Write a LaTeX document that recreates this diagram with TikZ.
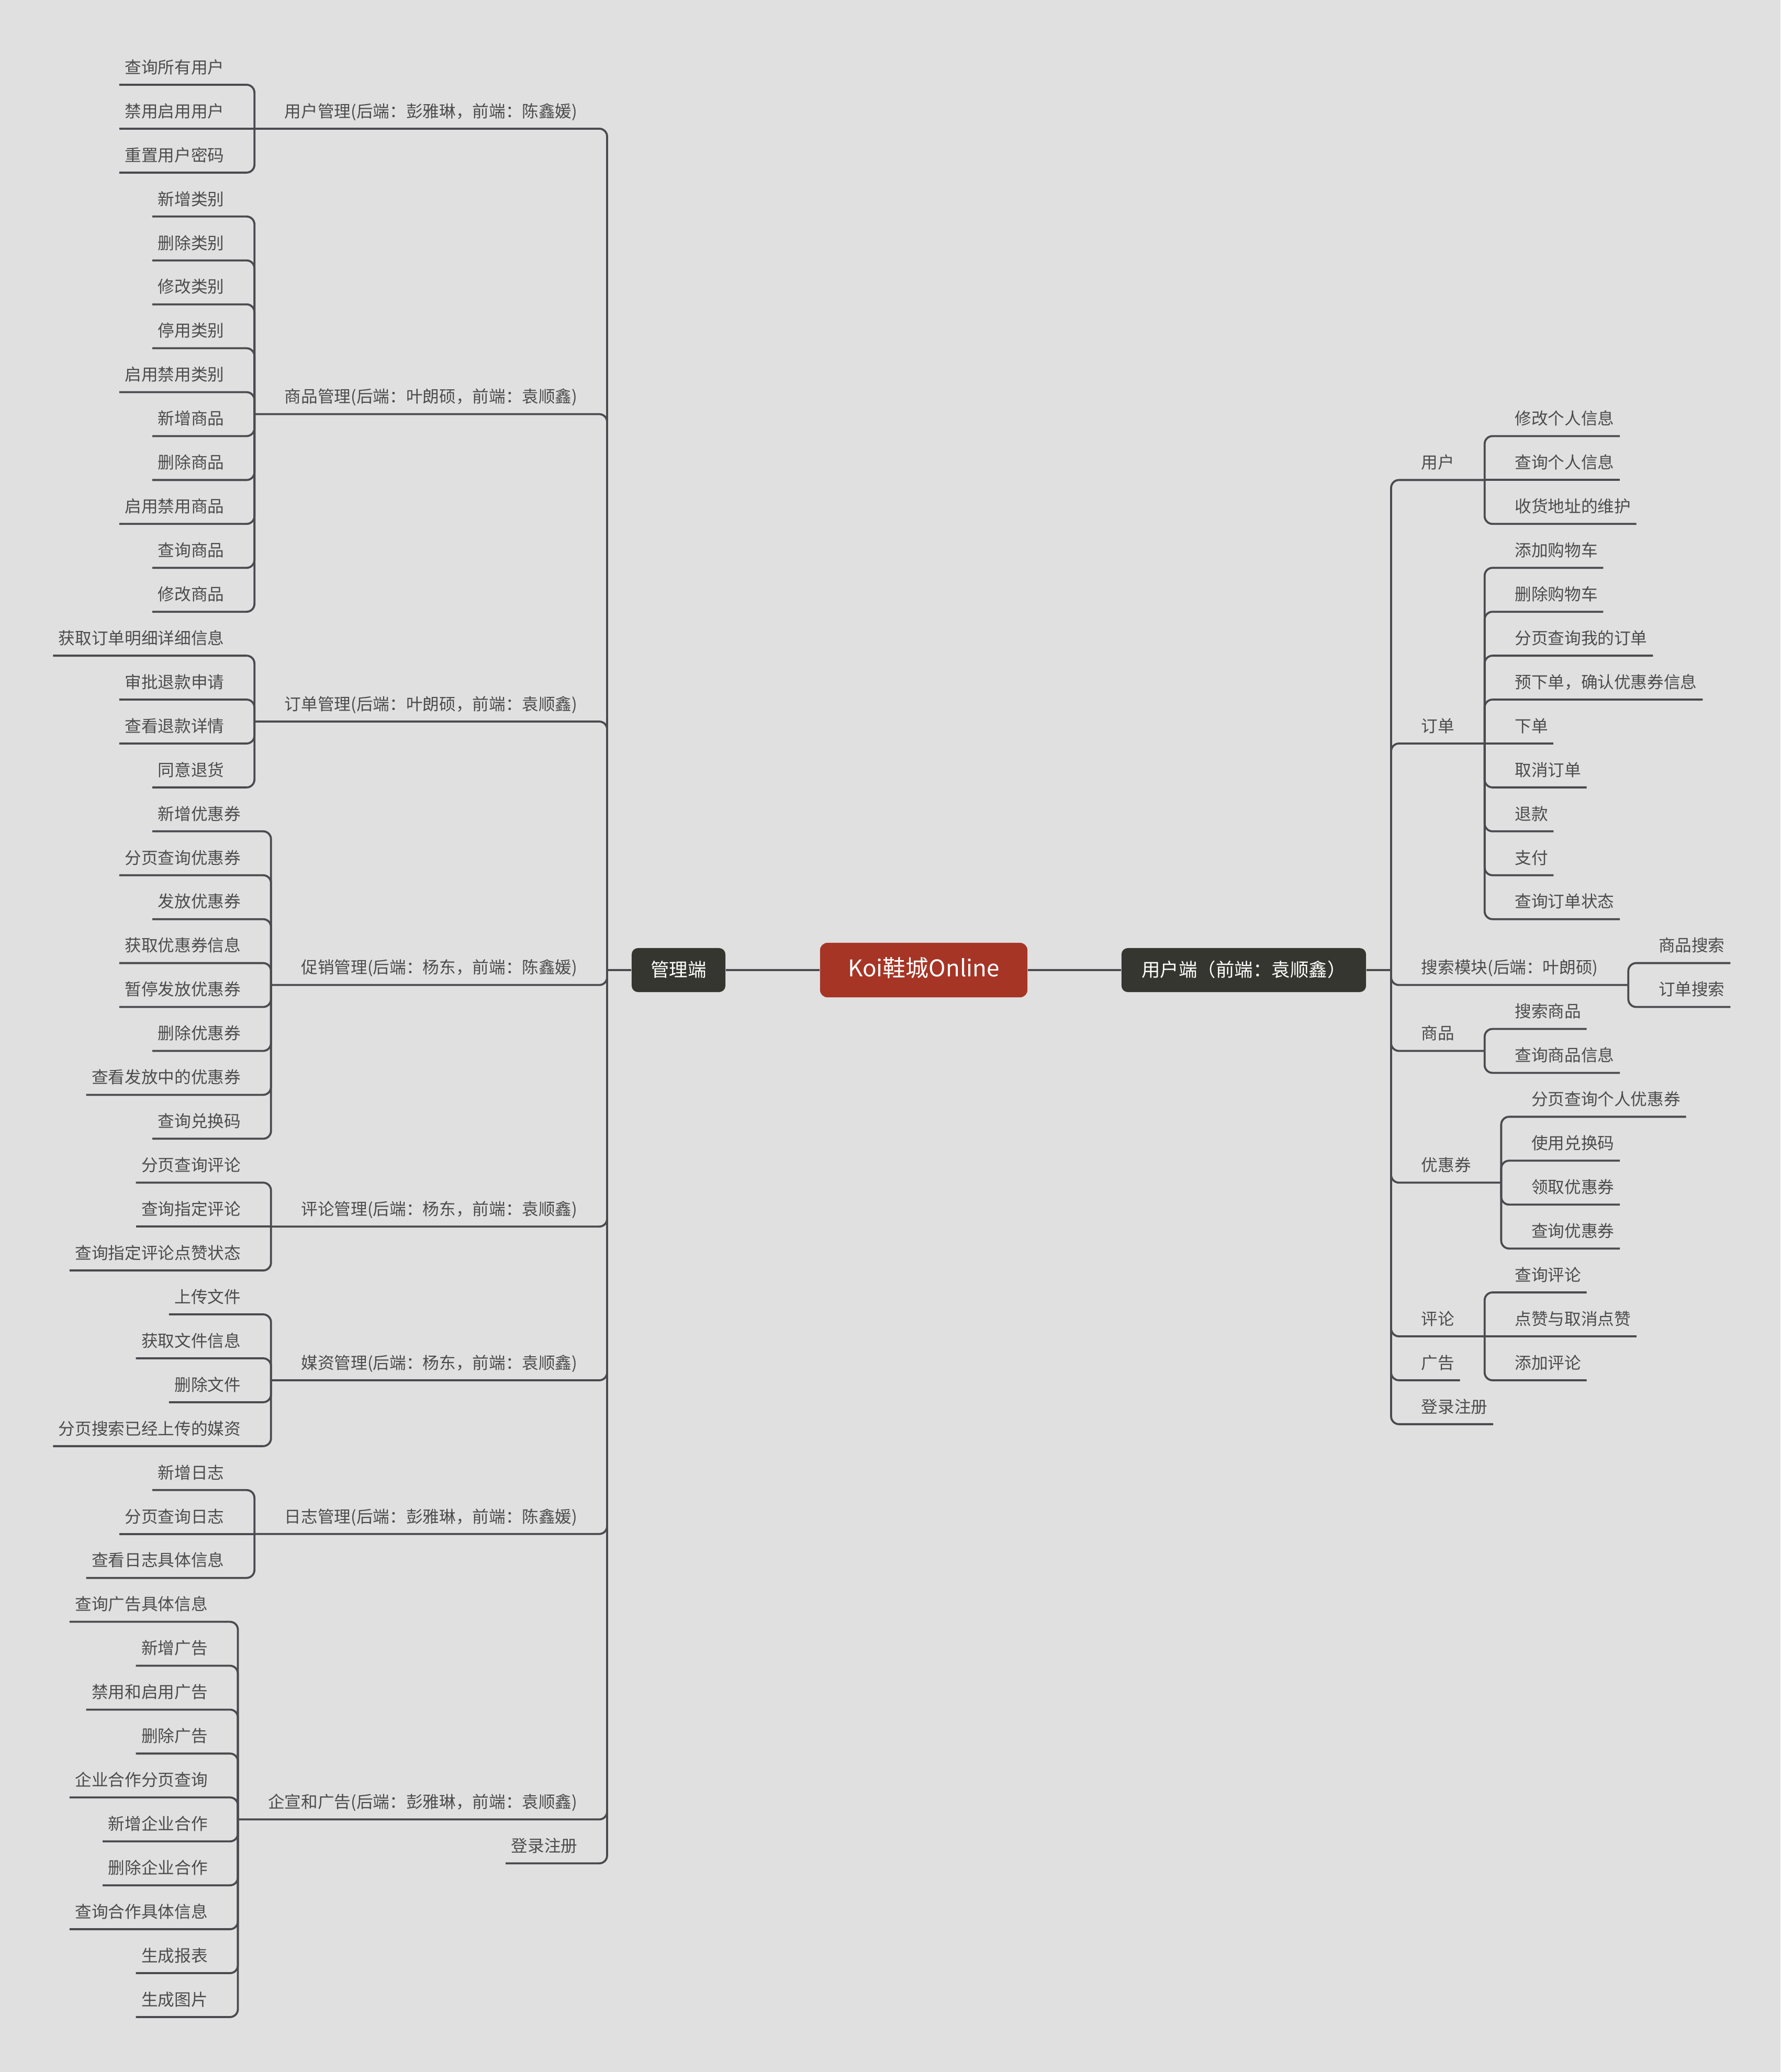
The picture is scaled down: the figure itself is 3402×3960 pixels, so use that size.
\documentclass[tikz,border=0pt]{standalone}
\usepackage{fontspec}
\setmainfont{Noto Sans CJK SC}
\usetikzlibrary{calc}
\definecolor{bgc}{RGB}{224,224,224}
\definecolor{lnc}{RGB}{74,74,79}
\definecolor{txc}{RGB}{76,76,76}
\definecolor{rootc}{RGB}{166,53,38}
\definecolor{boxc}{RGB}{54,54,48}
\newcommand\RY[1]{\pgfmathsetmacro\ry{128+83.93*(#1)}}
% leaves: name, text-edge coordinate, row, text
\newcommand\LLeaf[4]{\RY{#3}\node[lf] (#1) at (#2 |- 0,\ry) {#4};\coordinate (u#1) at ($(#1.west)+(-10,34)$);}
\newcommand\RLeaf[4]{\RY{#3}\node[rt] (#1) at (#2 |- 0,\ry) {#4};\coordinate (u#1) at ($(#1.east)+(10,34)$);}
% parents: name, row, text
\newcommand\LPar[3]{\RY{#2}\node[lf] (#1) at (1104,\ry) {#3};\coordinate (u#1) at ($(#1.west)+(-57,34)$);\coordinate (t#1) at ($(u#1)+(-57,-34)$);}
\newcommand\RPar[3]{\RY{#2}\node[rt] (#1) at (2715,\ry) {#3};\coordinate (u#1) at ($(#1.east)+(57,34)$);\coordinate (t#1) at ($(u#1)+(57,-34)$);}
% connectors: junction, child
\newcommand\Conn[2]{\draw[ln] (#1) -- (#1 |- u#2) -- (u#2);}
\newcommand\ConnS[2]{\draw[ln] (#1) -- (u#2);}
\begin{document}
\begin{tikzpicture}[x=0.01cm,y=-0.01cm,
  every node/.style={font=\fontsize{9}{11}\selectfont, text=txc, inner sep=0pt, text height=0.8em, text depth=0.1em},
  lf/.style={anchor=east},
  rt/.style={anchor=west},
  ln/.style={draw=lnc, line width=0.038cm, rounded corners=0.15cm},
  dbox/.style={fill=boxc, text=white, rounded corners=0.12cm, minimum height=0.84cm, font=\fontsize{10.1}{12}\selectfont},
  rootbox/.style={fill=rootc, text=white, rounded corners=0.14cm, minimum height=1.04cm, minimum width=3.96cm, font=\fontsize{12.5}{14}\selectfont}]
\fill[bgc] (0,0) rectangle (3402,3960);
\useasboundingbox (0,0) rectangle (3402,3960);

% central nodes
\node[rootbox] (root) at (1765,1854) {Koi鞋城Online};
\node[dbox, minimum width=1.79cm] (adm) at (1296.5,1854) {管理端};
\node[dbox, minimum width=4.67cm] (usr) at (2376.5,1854) {用户端（前端：袁顺鑫）};
\coordinate (VL) at (1160,1854);
\coordinate (VR) at (2658,1854);

% ---------- left side ----------
\LPar{p1}{1}{用户管理(后端：彭雅琳，前端：陈鑫媛)}
\LPar{p2}{7.5}{商品管理(后端：叶朗硕，前端：袁顺鑫)}
\LPar{p3}{14.5}{订单管理(后端：叶朗硕，前端：袁顺鑫)}
\LPar{p4}{20.5}{促销管理(后端：杨东，前端：陈鑫媛)}
\LPar{p5}{26}{评论管理(后端：杨东，前端：袁顺鑫)}
\LPar{p6}{29.5}{媒资管理(后端：杨东，前端：袁顺鑫)}
\LPar{p7}{33}{日志管理(后端：彭雅琳，前端：陈鑫媛)}
\LPar{p8}{39.5}{企宣和广告(后端：彭雅琳，前端：袁顺鑫)}
\RY{40.5}\node[lf] (p9) at (1104,\ry) {登录注册};
\coordinate (up9) at ($(p9.west)+(-10,34)$);

\foreach \t [count=\i from 0] in {查询所有用户,禁用启用用户,重置用户密码} {\LLeaf{a\i}{tp1}{\i}{\t}}
\foreach \t [count=\i from 3] in {新增类别,删除类别,修改类别,停用类别,启用禁用类别,新增商品,删除商品,启用禁用商品,查询商品,修改商品} {\LLeaf{a\i}{tp2}{\i}{\t}}
\foreach \t [count=\i from 13] in {获取订单明细详细信息,审批退款申请,查看退款详情,同意退货} {\LLeaf{a\i}{tp3}{\i}{\t}}
\foreach \t [count=\i from 17] in {新增优惠券,分页查询优惠券,发放优惠券,获取优惠券信息,暂停发放优惠券,删除优惠券,查看发放中的优惠券,查询兑换码} {\LLeaf{a\i}{tp4}{\i}{\t}}
\foreach \t [count=\i from 25] in {分页查询评论,查询指定评论,查询指定评论点赞状态} {\LLeaf{a\i}{tp5}{\i}{\t}}
\foreach \t [count=\i from 28] in {上传文件,获取文件信息,删除文件,分页搜索已经上传的媒资} {\LLeaf{a\i}{tp6}{\i}{\t}}
\foreach \t [count=\i from 32] in {新增日志,分页查询日志,查看日志具体信息} {\LLeaf{a\i}{tp7}{\i}{\t}}
\foreach \t [count=\i from 35] in {查询广告具体信息,新增广告,禁用和启用广告,删除广告,企业合作分页查询,新增企业合作,删除企业合作,查询合作具体信息,生成报表,生成图片} {\LLeaf{a\i}{tp8}{\i}{\t}}

% ---------- right side ----------
\RPar{q1}{9}{用户}
\RPar{q2}{15}{订单}
\RPar{q3}{20.5}{搜索模块(后端：叶朗硕)}
\RPar{q4}{22}{商品}
\RPar{q5}{25}{优惠券}
\RPar{q6}{28.5}{评论}
\RY{29.5}\node[rt] (q7) at (2715,\ry) {广告};
\coordinate (uq7) at ($(q7.east)+(10,34)$);
\RY{30.5}\node[rt] (q8) at (2715,\ry) {登录注册};
\coordinate (uq8) at ($(q8.east)+(10,34)$);

\foreach \t [count=\i from 8] in {修改个人信息,查询个人信息,收货地址的维护} {\RLeaf{b\i}{tq1}{\i}{\t}}
\foreach \t [count=\i from 11] in {添加购物车,删除购物车,分页查询我的订单,预下单，确认优惠券信息,下单,取消订单,退款,支付,查询订单状态} {\RLeaf{b\i}{tq2}{\i}{\t}}
\foreach \t [count=\i from 20] in {商品搜索,订单搜索} {\RLeaf{b\i}{tq3}{\i}{\t}}
\foreach \t/\r [count=\i from 1] in {搜索商品/21.5,查询商品信息/22.5} {\RLeaf{c\i}{tq4}{\r}{\t}}
\foreach \t/\r [count=\i from 3] in {分页查询个人优惠券/23.5,使用兑换码/24.5,领取优惠券/25.5,查询优惠券/26.5} {\RLeaf{c\i}{tq5}{\r}{\t}}
\foreach \t/\r [count=\i from 7] in {查询评论/27.5,点赞与取消点赞/28.5,添加评论/29.5} {\RLeaf{c\i}{tq6}{\r}{\t}}

% ---------- connectors ----------
\draw[ln] (root.west) -- (adm.east);
\draw[ln] (adm.west) -- (VL);
\draw[ln] (root.east) -- (usr.west);
\draw[ln] (usr.east) -- (VR);

\foreach \p in {p1,p2,p3,p4,p5,p6,p7,p8,p9} {\Conn{VL}{\p}}
\foreach \p in {q1,q2,q3,q4,q5,q6,q7,q8} {\Conn{VR}{\p}}

\foreach \i in {0,2} {\Conn{up1}{a\i}}
\ConnS{up1}{a1}
\foreach \i in {3,...,12} {\Conn{up2}{a\i}}
\foreach \i in {13,...,16} {\Conn{up3}{a\i}}
\foreach \i in {17,...,24} {\Conn{up4}{a\i}}
\foreach \i in {25,27} {\Conn{up5}{a\i}}
\ConnS{up5}{a26}
\foreach \i in {28,...,31} {\Conn{up6}{a\i}}
\foreach \i in {32,34} {\Conn{up7}{a\i}}
\ConnS{up7}{a33}
\foreach \i in {35,...,44} {\Conn{up8}{a\i}}

\foreach \i in {8,10} {\Conn{uq1}{b\i}}
\ConnS{uq1}{b9}
\foreach \i in {11,12,13,14,16,17,18,19} {\Conn{uq2}{b\i}}
\ConnS{uq2}{b15}
\foreach \i in {20,21} {\Conn{uq3}{b\i}}
\foreach \i in {1,2} {\Conn{uq4}{c\i}}
\foreach \i in {3,...,6} {\Conn{uq5}{c\i}}
\foreach \i in {7,9} {\Conn{uq6}{c\i}}
\ConnS{uq6}{c8}
\end{tikzpicture}
\end{document}
